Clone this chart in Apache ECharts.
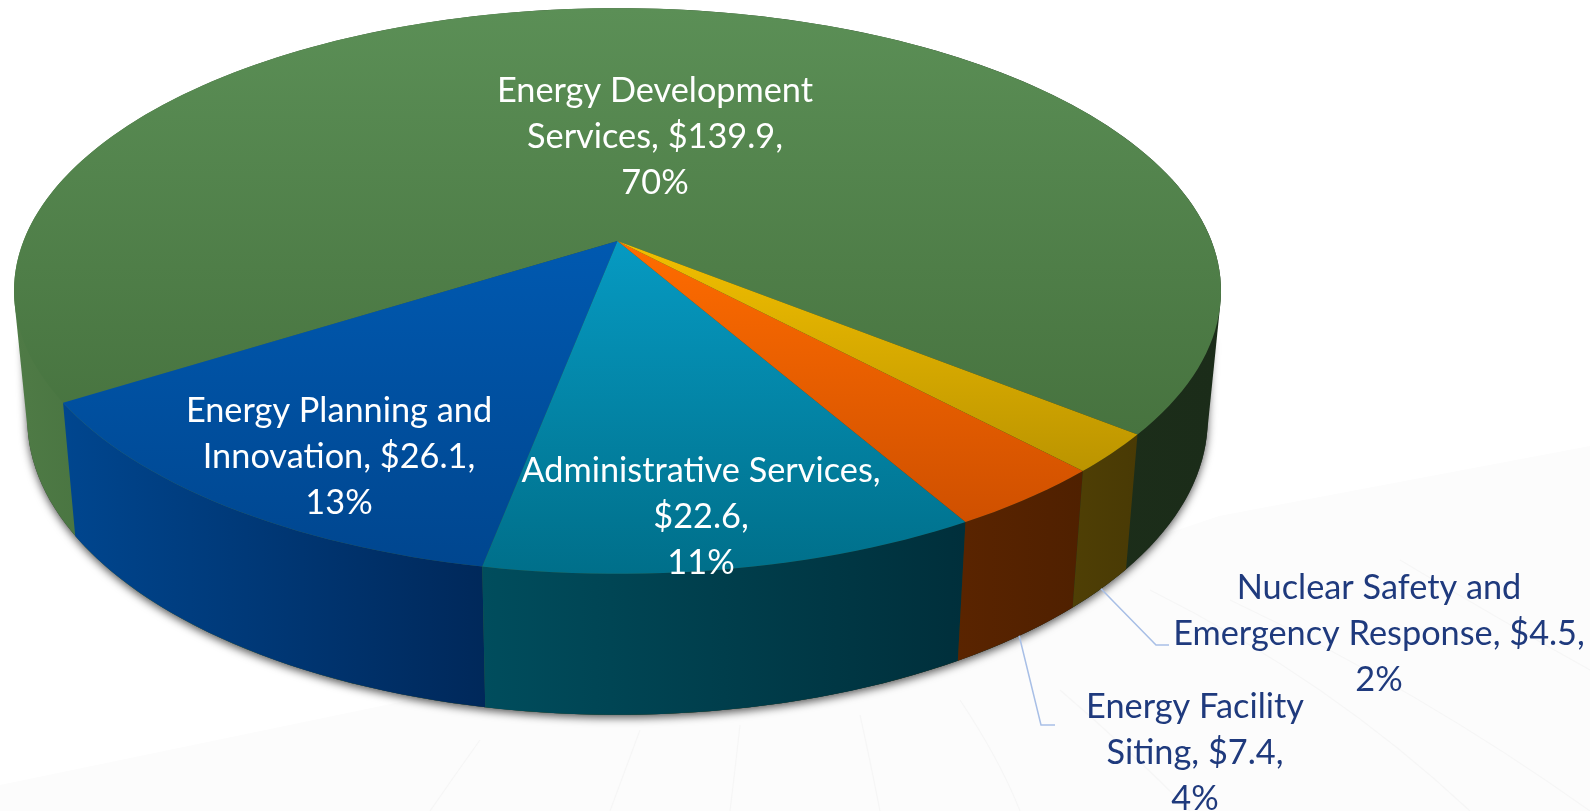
<!DOCTYPE html>
<html lang="en">
<head>
    <meta charset="UTF-8">
    <title>Energy budget pie</title>
    <script src="https://cdn.jsdelivr.net/npm/echarts@6/dist/echarts.min.js"></script>
    <style>
        html, body { margin: 0; padding: 0; background: #fff; }
        #chart { width: 1590px; height: 811px; }
    </style>
</head>
<body>
    <div id="chart"></div>
    <script>
        // values ($M), in drawing order
        var sliceValues = [139.9, 26.1, 22.6, 7.4, 4.5];
        var slicePercents = [70, 13, 11, 4, 2];
        var sliceNames = [
            'Energy Development\nServices, ',
            'Energy Planning and\nInnovation, ',
            'Administrative Services,\n',
            'Energy Facility\nSiting, ',
            'Nuclear Safety and\nEmergency Response, '
        ];

        // colours: top face [upper, lower], wall [left, right]
        var topColors = [
            ['#5b8f56', '#47733f'], ['#0059b0', '#00468f'], ['#069ac2', '#006f8a'],
            ['#ff6c00', '#cf5000'], ['#f2bf00', '#bb9400']
        ];
        var wallColors = [
            ['#4f7b46', '#46713e', '#1c2e1a', '#1b2c19'], ['#00468f', '#00285a'], ['#004d5d', '#002f3b'],
            ['#5a2400', '#4f2000'], ['#4f3f05', '#493a05']
        ];
        var labelColors = ['#fff', '#fff', '#fff', '#1f3a7d', '#1f3a7d'];
        var labelCenters = [[655, 137], [339, 457], [701, 517], [1195, 753], [1379, 634]];
        // leader line elbows for the two outside labels
        var leaderElbows = { 3: [[1041, 725], [1055, 725]], 4: [[1156, 645], [1169, 645]] };

        // projection of the pie disc: apex, scale, perspective
        var cx = 617.5, cy = 241, scaleX = 594, scaleY = 274, persp = 0.1767;
        var wallScaleX = 0.978, wallScaleY = 1.045, wallDrop = 126;
        var firstAngle = -51.1; // degrees from the front, growing to the left

        var total = sliceValues.reduce(function (a, b) { return a + b; }, 0);
        var sliceAngles = [];
        var acc = firstAngle + 360;
        sliceValues.forEach(function (v) {
            sliceAngles.push([acc, acc - v / total * 360]);
            acc -= v / total * 360;
        });

        function topPoint(deg) {
            var t = deg * Math.PI / 180;
            var x = -Math.sin(t), y = Math.cos(t), w = 1 - persp * y;
            return [cx + scaleX * x / w, cy + scaleY * y / w];
        }
        function wallPoint(deg) {
            var p = topPoint(deg);
            return [cx + (p[0] - cx) * wallScaleX, cy + wallDrop + (p[1] - cy) * wallScaleY];
        }
        function arc(fn, from, to) {
            var n = Math.max(8, Math.ceil(Math.abs(to - from) / 1.5));
            var pts = [];
            for (var i = 0; i <= n; i++) pts.push(fn(from + (to - from) * i / n));
            return pts;
        }
        function gradient(x2, y2, colors) {
            var stops = colors.length === 4
                ? [0, 0.1, 0.85, 1].map(function (o, k) { return { offset: o, color: colors[k] }; })
                : [{ offset: 0, color: colors[0] }, { offset: 1, color: colors[1] }];
            return new echarts.graphic.LinearGradient(0, 0, x2, y2, stops);
        }
        // convex outline of the bottom disc plus the given part of the top disc
        function drumOutline(from, to) {
            var pts = arc(topPoint, from, to).concat(arc(wallPoint, 0, 360));
            pts.sort(function (a, b) { return a[0] - b[0] || a[1] - b[1]; });
            function half(list) {
                var out = [];
                list.forEach(function (p) {
                    while (out.length > 1) {
                        var a = out[out.length - 2], b = out[out.length - 1];
                        if ((b[0] - a[0]) * (p[1] - a[1]) - (b[1] - a[1]) * (p[0] - a[0]) > 0) break;
                        out.pop();
                    }
                    out.push(p);
                });
                out.pop();
                return out;
            }
            return half(pts).concat(half(pts.slice().reverse()));
        }

        function renderWall(params) {
            var i = params.dataIndex, a = sliceAngles[i];
            if (i === 0) {
                // biggest slice wraps the back, so its wall is the full drum
                return {
                    type: 'group',
                    children: [{
                        // shadow only falls from the front part of the drum
                        type: 'polygon',
                        shape: { points: drumOutline(-70, 70) },
                        style: {
                            fill: '#333',
                            shadowBlur: 9, shadowColor: 'rgba(0,0,0,0.65)', shadowOffsetY: 3
                        }
                    }, {
                        type: 'polygon',
                        shape: { points: drumOutline(0, 360) },
                        style: { fill: gradient(1, 0, wallColors[0]) }
                    }]
                };
            }
            return {
                type: 'polygon',
                shape: { points: arc(topPoint, a[0], a[1]).concat(arc(wallPoint, a[1], a[0])) },
                style: { fill: gradient(1, 0, wallColors[i]) }
            };
        }

        function renderTop(params) {
            var i = params.dataIndex, a = sliceAngles[i];
            return {
                type: 'polygon',
                shape: { points: [[cx, cy]].concat(arc(topPoint, a[0], a[1])) },
                style: { fill: gradient(0, 1, topColors[i]) }
            };
        }

        function renderLabel(params, api) {
            var i = params.dataIndex, a = sliceAngles[i], children = [];
            if (leaderElbows[i]) {
                children.push({
                    type: 'polyline',
                    shape: { points: [wallPoint((a[0] + a[1]) / 2)].concat(leaderElbows[i]) },
                    style: { stroke: '#a8bfe6', lineWidth: 1.5, fill: null }
                });
            }
            children.push({
                type: 'text',
                style: {
                    text: sliceNames[i] + '$' + api.value(0) + ',\n' + slicePercents[i] + '%',
                    x: labelCenters[i][0], y: labelCenters[i][1],
                    align: 'center', verticalAlign: 'middle',
                    fill: labelColors[i], font: '34.3px Lato', lineHeight: 46
                }
            });
            return { type: 'group', children: children };
        }

        // faint swoosh lines of the slide background: x1, y1, cpx, cpy, x2, y2
        var backgroundCurves = [
            [1150, 590, 1330, 680, 1470, 811], [1230, 600, 1420, 690, 1590, 811], [1400, 560, 1500, 620, 1590, 670],
            [1060, 690, 1130, 750, 1190, 811], [960, 700, 1000, 760, 1020, 811], [860, 715, 870, 760, 880, 811],
            [740, 725, 735, 770, 730, 811], [640, 730, 625, 770, 610, 811], [480, 740, 455, 775, 430, 811]
        ];

        var myChart = echarts.init(document.getElementById('chart'));
        myChart.setOption({
            animation: false,
            backgroundColor: '#ffffff',
            graphic: [{
                type: 'polygon',
                silent: true,
                z: 0,
                shape: { points: [[0, 785], [410, 700], [1000, 590], [1219, 516], [1590, 446], [1590, 811], [0, 811]] },
                style: { fill: '#fcfcfc' }
            }].concat(backgroundCurves.map(function (c) {
                return {
                    type: 'bezierCurve',
                    silent: true,
                    z: 0,
                    shape: { x1: c[0], y1: c[1], cpx1: c[2], cpy1: c[3], x2: c[4], y2: c[5] },
                    style: { stroke: '#f6f6f6', lineWidth: 1.2, fill: null }
                };
            })),
            series: [
                { type: 'custom', coordinateSystem: 'none', silent: true, z: 2, data: sliceValues, renderItem: renderWall },
                { type: 'custom', coordinateSystem: 'none', silent: true, z: 3, data: sliceValues, renderItem: renderTop },
                { type: 'custom', coordinateSystem: 'none', silent: true, z: 4, data: sliceValues, renderItem: renderLabel }
            ]
        });
    </script>
</body>
</html>
